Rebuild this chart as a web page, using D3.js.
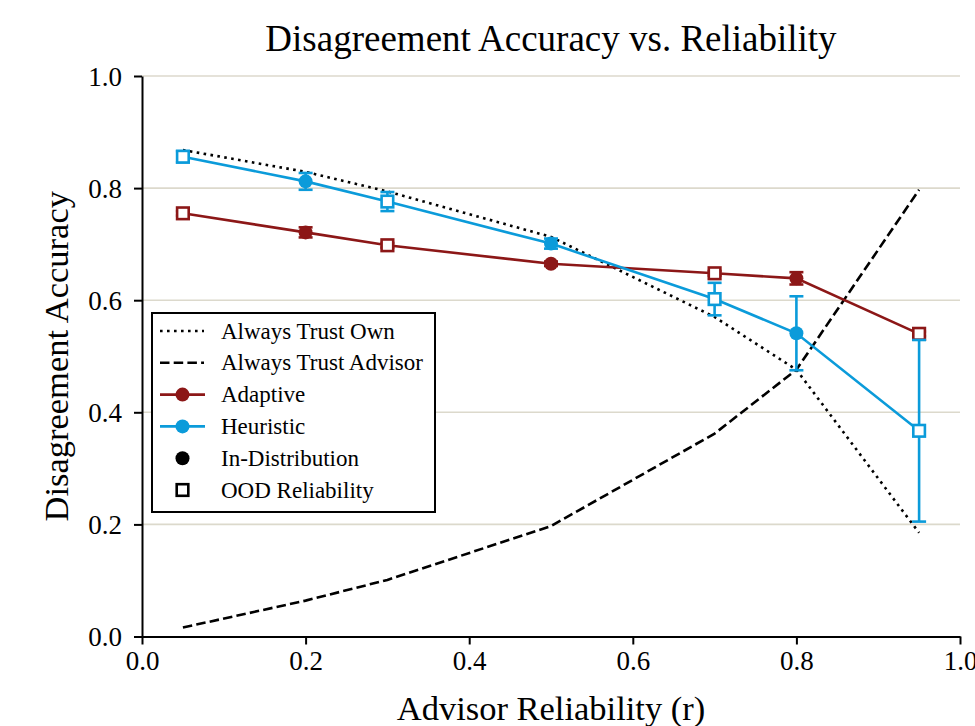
<!DOCTYPE html>
<html>
<head>
<meta charset="utf-8">
<script src="https://cdn.jsdelivr.net/npm/d3@7"></script>
<style>
  body { margin: 0; background: #fff; }
  svg { display: block; }
  text { font-family: "Liberation Serif", "Times New Roman", serif; fill: #000; }
</style>
</head>
<body>
<svg id="chart" width="975" height="726"></svg>
<script>
// Advisor reliability levels (x) and whether each level was seen in training
const reliability    = [0.05, 0.2, 0.3, 0.5, 0.7, 0.8, 0.95];
const inDistribution = [false, true, false, true, false, true, false];

// Baseline strategies
const trustOwn     = [0.868, 0.829, 0.794, 0.713, 0.570, 0.476, 0.185];
const trustAdvisor = [0.016, 0.064, 0.101, 0.197, 0.362, 0.476, 0.797];

// Learned strategies: mean accuracy and error half-width
const adaptiveMean  = [0.755, 0.721, 0.698, 0.665, 0.648, 0.639, 0.540];
const adaptiveErr   = [0.004, 0.009, 0.004, 0.004, 0.004, 0.011, 0.004];
const heuristicMean = [0.856, 0.812, 0.776, 0.701, 0.602, 0.541, 0.367];
const heuristicErr  = [0.010, 0.015, 0.017, 0.009, 0.029, 0.066, 0.162];

const xTicks = [0.0, 0.2, 0.4, 0.6, 0.8, 1.0];
const yTicks = [0.0, 0.2, 0.4, 0.6, 0.8, 1.0];

const titleText  = "Disagreement Accuracy vs. Reliability";
const xLabelText = "Advisor Reliability (r)";
const yLabelText = "Disagreement Accuracy";
const legendLabels = ["Always Trust Own", "Always Trust Advisor", "Adaptive", "Heuristic", "In-Distribution", "OOD Reliability"];

const RED = "#8c1717";
const BLUE = "#0b9bda";
const GRID = "#dcd9cc";

const svg = d3.select("#chart");
const plotLeft = 142, plotRight = 960, plotTop = 76, plotBottom = 636.5;

const x = d3.scaleLinear().domain([0, 1]).range([plotLeft, plotRight]);
const y = d3.scaleLinear().domain([0, 1]).range([plotBottom, plotTop]);

// horizontal grid
svg.append("g").selectAll("line")
  .data(yTicks.filter(v => v > 0))
  .join("line")
  .attr("x1", plotLeft).attr("x2", plotRight)
  .attr("y1", d => y(d)).attr("y2", d => y(d))
  .attr("stroke", GRID).attr("stroke-width", 1.6);

// axes
const xAxis = svg.append("g")
  .attr("transform", `translate(0,${plotBottom})`)
  .call(d3.axisBottom(x).tickValues(xTicks).tickFormat(d3.format(".1f")).tickSize(8).tickSizeOuter(0).tickPadding(6));
const yAxis = svg.append("g")
  .attr("transform", `translate(${plotLeft},0)`)
  .call(d3.axisLeft(y).tickValues(yTicks).tickFormat(d3.format(".1f")).tickSize(8).tickSizeOuter(0).tickPadding(12));
[xAxis, yAxis].forEach(g => {
  g.select(".domain").attr("stroke", "#000").attr("stroke-width", 2);
  g.selectAll(".tick line").attr("stroke", "#000").attr("stroke-width", 2);
  g.selectAll(".tick text").style("font-family", '"Liberation Serif", serif').style("font-size", "27px").attr("fill", "#000");
});
yAxis.selectAll(".tick text").attr("dy", "0.34em");
xAxis.selectAll(".tick text").attr("dy", "0.74em");

// baselines
const pts = vals => reliability.map((r, i) => [r, vals[i]]);
const line = d3.line().x(d => x(d[0])).y(d => y(d[1]));

svg.append("path").datum(pts(trustOwn))
  .attr("d", line).attr("fill", "none").attr("stroke", "#000")
  .attr("stroke-width", 2.6).attr("stroke-dasharray", "2.6,4.4");
svg.append("path").datum(pts(trustAdvisor))
  .attr("d", line).attr("fill", "none").attr("stroke", "#000")
  .attr("stroke-width", 2.6).attr("stroke-dasharray", "9.5,4.2");

// series with error bars and markers
function drawSeries(mean, err, color) {
  const g = svg.append("g");
  g.append("path").datum(pts(mean))
    .attr("d", line).attr("fill", "none").attr("stroke", color).attr("stroke-width", 2.6);
  const eb = g.append("g").selectAll("g").data(reliability.map((r, i) => ({ r, m: mean[i], e: err[i] }))).join("g");
  eb.append("line")
    .attr("x1", d => x(d.r)).attr("x2", d => x(d.r))
    .attr("y1", d => y(d.m - d.e)).attr("y2", d => y(d.m + d.e))
    .attr("stroke", color).attr("stroke-width", 2.6);
  [-1, 1].forEach(s => {
    eb.append("line")
      .attr("x1", d => x(d.r) - 7).attr("x2", d => x(d.r) + 7)
      .attr("y1", d => y(d.m + s * d.e)).attr("y2", d => y(d.m + s * d.e))
      .attr("stroke", color).attr("stroke-width", 2.6);
  });
  const data = reliability.map((r, i) => ({ r, m: mean[i], ind: inDistribution[i] }));
  g.append("g").selectAll("circle").data(data.filter(d => d.ind)).join("circle")
    .attr("cx", d => x(d.r)).attr("cy", d => y(d.m)).attr("r", 7)
    .attr("fill", color);
  g.append("g").selectAll("rect").data(data.filter(d => !d.ind)).join("rect")
    .attr("x", d => x(d.r) - 5.8).attr("y", d => y(d.m) - 5.8)
    .attr("width", 11.6).attr("height", 11.6)
    .attr("fill", "#fff").attr("stroke", color).attr("stroke-width", 2.6);
}
drawSeries(adaptiveMean, adaptiveErr, RED);
drawSeries(heuristicMean, heuristicErr, BLUE);

// title and axis labels
svg.append("text").attr("x", (plotLeft + plotRight) / 2).attr("y", 51)
  .attr("text-anchor", "middle").style("font-size", "37px").text(titleText);
svg.append("text").attr("x", (plotLeft + plotRight) / 2).attr("y", 720)
  .attr("text-anchor", "middle").style("font-size", "34.5px").text(xLabelText);
svg.append("text")
  .attr("transform", `translate(68,${(plotTop + plotBottom) / 2}) rotate(-90)`)
  .attr("text-anchor", "middle").style("font-size", "34.5px").text(yLabelText);

// legend
const lg = svg.append("g");
const lx = 152, ly = 313, lw = 283, lh = 199, rowH = 31.8, row0 = 331;
lg.append("rect").attr("x", lx).attr("y", ly).attr("width", lw).attr("height", lh)
  .attr("fill", "#fff").attr("stroke", "#000").attr("stroke-width", 2);
const rows = lg.selectAll("g").data(legendLabels).join("g")
  .attr("transform", (d, i) => `translate(0,${row0 + i * rowH})`);
rows.append("text").attr("x", 221).attr("y", 7.5).style("font-size", "23px").text(d => d);
rows.each(function (d, i) {
  const r = d3.select(this);
  if (i === 0) r.append("line").attr("x1", 160).attr("x2", 204).attr("stroke", "#000").attr("stroke-width", 2.6).attr("stroke-dasharray", "2.6,4.4");
  if (i === 1) r.append("line").attr("x1", 160).attr("x2", 204).attr("stroke", "#000").attr("stroke-width", 2.6).attr("stroke-dasharray", "9.5,4.2");
  if (i === 2 || i === 3) {
    const c = i === 2 ? RED : BLUE;
    r.append("line").attr("x1", 160).attr("x2", 205).attr("stroke", c).attr("stroke-width", 2.6);
    r.append("circle").attr("cx", 182.5).attr("r", 7).attr("fill", c);
  }
  if (i === 4) r.append("circle").attr("cx", 182.5).attr("r", 7).attr("fill", "#000");
  if (i === 5) r.append("rect").attr("x", 182.5 - 5.8).attr("y", -5.8).attr("width", 11.6).attr("height", 11.6)
    .attr("fill", "#fff").attr("stroke", "#000").attr("stroke-width", 2.6);
});
</script>
</body>
</html>
